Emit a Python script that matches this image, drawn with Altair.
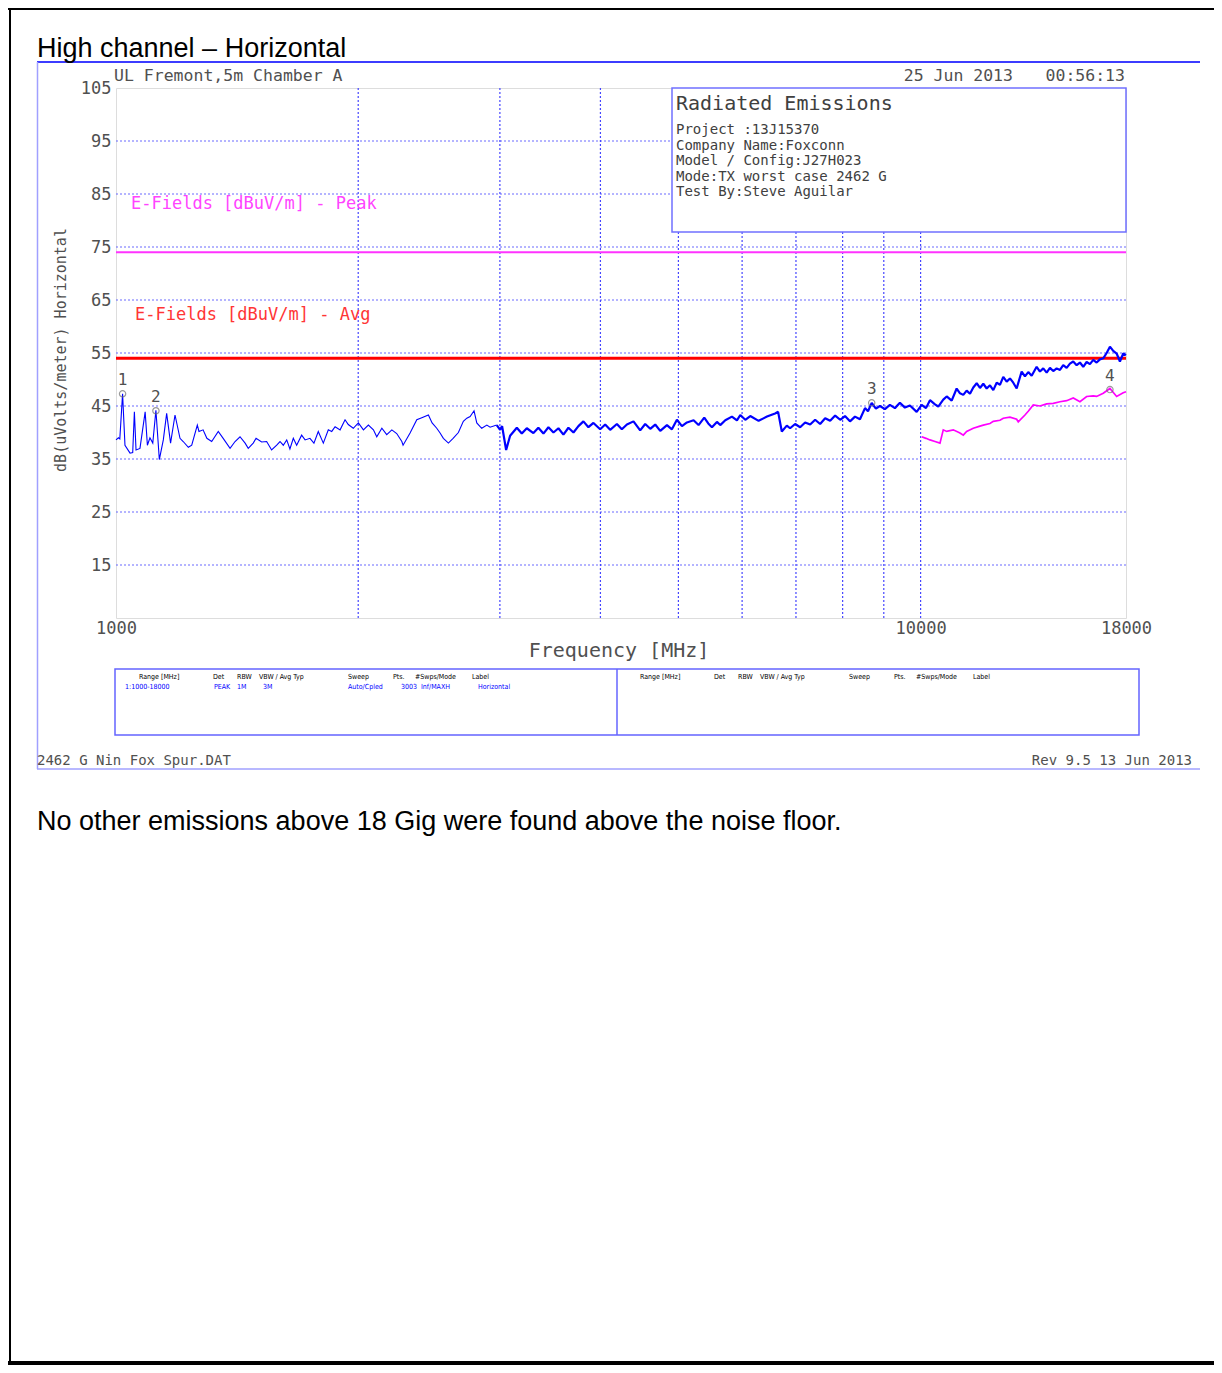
import altair as alt
import pandas as pd

# ---------------- data ----------------
PEAK_LOW_FREQ_MHZ = [1000, 1007, 1011, 1019, 1026, 1041, 1049, 1054, 1059, 1071, 1087, 1094, 1102, 1111, 1121,
                     1132, 1145, 1156, 1169, 1184, 1201, 1212, 1230, 1242, 1262, 1268, 1283, 1297, 1315, 1340,
                     1359, 1386, 1406, 1426, 1447, 1460, 1481, 1493, 1517, 1539, 1561, 1584, 1599, 1614, 1630,
                     1645, 1661, 1677, 1701, 1718, 1742, 1762, 1784, 1810, 1836, 1854, 1872, 1899, 1926, 1944,
                     1972, 2001, 2030, 2059, 2089, 2109, 2140, 2170, 2202, 2233, 2266, 2274, 2320, 2365, 2399,
                     2445, 2471, 2504, 2528, 2552, 2589, 2624, 2664, 2702, 2729, 2755, 2786, 2808, 2835, 2848,
                     2890, 2917, 2973]
PEAK_LOW_LEVEL_DB = [38.6, 39.0, 38.8, 47.3, 37.6, 36.1, 36.2, 43.9, 36.7, 37.0, 43.9, 37.6, 39.0, 38.0, 44.2,
                     34.9, 38.6, 43.6, 38.0, 43.3, 38.9, 38.3, 37.2, 37.6, 41.4, 40.2, 40.5, 38.9, 38.3, 40.2,
                     38.9, 37.0, 38.3, 39.2, 38.0, 37.0, 38.0, 38.9, 38.2, 38.3, 36.7, 37.6, 38.3, 37.6, 38.6,
                     36.9, 38.9, 37.6, 39.5, 38.6, 38.9, 38.0, 40.2, 38.0, 40.5, 40.2, 41.1, 40.5, 42.4, 41.5,
                     40.8, 41.8, 40.5, 41.4, 40.5, 39.2, 40.8, 39.6, 40.5, 39.8, 38.3, 37.6, 39.9, 42.4, 42.8,
                     43.3, 41.8, 40.8, 39.9, 38.9, 38.0, 38.9, 40.0, 42.1, 42.7, 43.0, 44.1, 41.8, 41.1, 40.8,
                     41.4, 41.0, 41.4]

PEAK_HIGH_FREQ_MHZ = [3002, 3019, 3054, 3089, 3149, 3194, 3240, 3302, 3349, 3398, 3447, 3497, 3547, 3598, 3650,
                      3703, 3756, 3810, 3865, 3921, 3997, 4055, 4113, 4193, 4253, 4315, 4397, 4482, 4547, 4613,
                      4679, 4747, 4839, 4908, 4979, 5051, 5124, 5222, 5297, 5384, 5446, 5504, 5583, 5636, 5718,
                      5828, 5912, 5969, 6055, 6142, 6290, 6443, 6594, 6651, 6722, 6819, 6883, 6983, 7084, 7186,
                      7290, 7395, 7501, 7610, 7719, 7831, 7944, 8054, 8170, 8288, 8407, 8529, 8602, 8694, 8799,
                      8901, 9029, 9159, 9291, 9425, 9561, 9699, 9888, 10030, 10155, 10272, 10420, 10519, 10670,
                      10775, 10930, 11087, 11193, 11299, 11409, 11518, 11627, 11741, 11852, 11965, 12082, 12196,
                      12312, 12432, 12550, 12669, 12793, 12914, 13037, 13164, 13353, 13480, 13608, 13741, 13939,
                      14071, 14205, 14344, 14480, 14617, 14760, 14900, 15041, 15188, 15332, 15477, 15629, 15777,
                      15927, 16082, 16235, 16389, 16549, 16706, 16865, 17030, 17191, 17354, 17524, 17690, 17858,
                      18000]
PEAK_HIGH_LEVEL_DB = [40.5, 41.2, 36.7, 39.4, 40.9, 39.8, 40.8, 39.9, 40.9, 39.8, 41.0, 40.0, 40.8, 39.6, 40.9,
                      40.0, 41.2, 42.1, 41.0, 41.8, 40.6, 41.5, 40.5, 41.6, 40.6, 41.5, 42.1, 40.4, 41.6, 40.7,
                      41.5, 40.3, 41.4, 40.6, 42.4, 41.2, 41.9, 42.3, 41.4, 42.8, 41.7, 41.0, 42.0, 41.4, 42.3,
                      43.0, 42.3, 43.3, 42.4, 43.1, 42.2, 43.0, 43.6, 43.9, 40.2, 41.3, 40.8, 41.6, 41.0, 41.9,
                      41.5, 42.4, 41.6, 42.7, 42.2, 43.2, 42.4, 43.1, 42.1, 43.0, 42.5, 44.6, 44.0, 45.6, 44.5,
                      45.0, 44.4, 45.2, 44.6, 45.6, 44.7, 45.1, 43.9, 45.2, 44.6, 46.1, 45.3, 44.9, 46.2,
                      46.8, 46.0, 48.3, 47.4, 47.1, 47.9, 47.3, 48.5, 49.3, 48.4, 49.2, 48.3, 48.9,
                      48.0, 49.4, 49.0, 50.5, 49.6, 50.2, 49.4, 48.3, 51.5, 50.6, 51.4, 50.7, 52.4,
                      51.5, 52.1, 51.3, 52.2, 51.6, 52.1, 51.8, 52.7, 52.2, 53.0, 53.4, 52.7, 53.2,
                      52.4, 53.3, 52.9, 53.7, 53.2, 53.8, 54.0, 55.0, 56.2, 55.4, 54.9, 53.4, 54.9,
                      54.6]

AVG_FREQ_MHZ = [10030, 10155, 10272, 10420, 10570, 10670, 10775, 10980, 11193, 11299, 11409, 11627, 11852,
                11965, 12196, 12312, 12550, 12669, 12914, 13164, 13224, 13480, 13608, 13804, 14071, 14344,
                14617, 14900, 15188, 15477, 15777, 16082, 16389, 16549, 16865, 17191, 17524, 17858, 18000]
AVG_LEVEL_DB = [39.2, 38.9, 38.6, 38.3, 38.0, 40.5, 40.2, 40.5, 39.9, 39.5, 40.2, 40.8, 41.2,
                41.4, 41.7, 42.1, 42.3, 42.7, 42.9, 42.5, 42.0, 43.3, 44.0, 45.2, 45.0, 45.4,
                45.5, 45.8, 46.0, 46.5, 45.8, 46.8, 46.9, 46.8, 47.4, 48.3, 46.8, 47.5, 47.7]

MARKER_IDS = ["1", "2", "3", "4"]
MARKER_FREQ_MHZ = [1019, 1121, 8694, 17191]
MARKER_LEVEL_DB = [47.3, 44.1, 45.6, 48.1]

LIMIT_NAMES = ["E-Fields [dBuV/m] - Peak", "E-Fields [dBuV/m] - Avg"]
LIMIT_LEVEL_DB = [74, 54]

GRID_FREQ_MHZ = [2000, 3000, 4000, 5000, 6000, 7000, 8000, 9000, 10000]
GRID_LEVEL_DB = [15, 25, 35, 45, 55, 65, 75, 85, 95]
X_TICKS = [1000, 10000, 18000]
Y_TICKS = [15, 25, 35, 45, 55, 65, 75, 85, 95, 105]

TITLE = "High channel \u2013 Horizontal"
NOTE = "No other emissions above 18 Gig were found above the noise floor."
SITE = "UL Fremont,5m Chamber A"
DATE = "25 Jun 2013"
TIME = "00:56:13"
BOX_TITLE = "Radiated Emissions"
BOX_LINES = ["Project :13J15370", "Company Name:Foxconn", "Model / Config:J27H023",
             "Mode:TX worst case 2462 G", "Test By:Steve Aguilar"]
X_TITLE = "Frequency [MHz]"
Y_TITLE = "dB(uVolts/meter) Horizontal"
FILE_NAME = "2462 G Nin Fox Spur.DAT"
REVISION = "Rev 9.5 13 Jun 2013"
FOOT_HEADERS = ["Range [MHz]", "Det", "RBW", "VBW / Avg Typ", "Sweep", "Pts.", "#Swps/Mode", "Label"]
FOOT_VALUES = ["1:1000-18000", "PEAK", "1M", "3M", "Auto/Cpled", "3003", "Inf/MAXH", "Horizontal"]

# ---------------- styling ----------------
MONO = "DejaVu Sans Mono"
SANS = "Liberation Sans, Arial, sans-serif"
NARROW = "Liberation Sans Narrow, DejaVu Sans Condensed, sans-serif"
GREY = "#505050"
BLUE = "#0000ff"
MAGENTA = "#ff33ff"
RED = "#ff0000"

ONE = alt.Data(values=[{"k": 0}])


def text_layer(content, x, y, size, color=GREY, font=MONO, align="left", baseline="middle",
               angle=None, line_height=None):
    kw = dict(text=content, align=align, baseline=baseline, font=font, fontSize=size, color=color)
    if angle is not None:
        kw["angle"] = angle
    if line_height is not None:
        kw["lineHeight"] = line_height
    return alt.Chart(ONE).mark_text(**kw).encode(x=alt.value(x), y=alt.value(y))


def hline(x1, x2, y, color, width):
    return alt.Chart(ONE).mark_rule(color=color, strokeWidth=width).encode(
        x=alt.value(x1), x2=alt.value(x2), y=alt.value(y))


def vline(x, y1, y2, color, width):
    return alt.Chart(ONE).mark_rule(color=color, strokeWidth=width).encode(
        x=alt.value(x), y=alt.value(y1), y2=alt.value(y2))


def rect(x1, x2, y1, y2, stroke, width, fill="white", fill_opacity=1.0):
    return alt.Chart(ONE).mark_rect(stroke=stroke, strokeWidth=width, fill=fill,
                                    fillOpacity=fill_opacity).encode(
        x=alt.value(x1), x2=alt.value(x2), y=alt.value(y1), y2=alt.value(y2))


XS = alt.Scale(type="log", domain=[1000, 18000], nice=False)
YS = alt.Scale(domain=[5, 105], nice=False, zero=False)
XA = alt.Axis(values=X_TICKS, format="d", title=None, grid=False, ticks=False, tickSize=0, domain=False,
              labelFont=MONO, labelFontSize=17, labelColor=GREY, labelPadding=2, labelFlush=False,
              labelOverlap=False, labelBaseline="top")
YA = alt.Axis(values=Y_TICKS, title=None, grid=False, ticks=False, tickSize=0, domain=False,
              labelFont=MONO, labelFontSize=17, labelColor=GREY, labelPadding=5, labelFlush=False,
              labelOverlap=False)
X = alt.X("freq:Q", scale=XS, axis=XA)
Y = alt.Y("level:Q", scale=YS, axis=YA)

peak_low_df = pd.DataFrame({"freq": PEAK_LOW_FREQ_MHZ, "level": PEAK_LOW_LEVEL_DB})
peak_high_df = pd.DataFrame({"freq": PEAK_LOW_FREQ_MHZ[-1:] + PEAK_HIGH_FREQ_MHZ,
                             "level": PEAK_LOW_LEVEL_DB[-1:] + PEAK_HIGH_LEVEL_DB})
avg_df = pd.DataFrame({"freq": AVG_FREQ_MHZ, "level": AVG_LEVEL_DB})
marker_df = pd.DataFrame({"id": MARKER_IDS, "freq": MARKER_FREQ_MHZ, "level": MARKER_LEVEL_DB})
limit_df = pd.DataFrame({"name": LIMIT_NAMES, "level": LIMIT_LEVEL_DB})
vgrid_df = pd.DataFrame({"freq": GRID_FREQ_MHZ})
hgrid_df = pd.DataFrame({"level": GRID_LEVEL_DB})

layers = []

# page frame (black)
layers.append(hline(-108, 1098, -79, "black", 2))
layers.append(vline(-106, -80, 1277, "black", 2))
layers.append(hline(-108, 1098, 1275, "black", 4))

# chart frame (blue)
layers.append(hline(-79, 1084, -26, "#3c3cff", 2))
layers.append(vline(-78.5, -26, 681, "#a0a0ff", 1.5))
layers.append(hline(-79, 1084, 681, "#a0a0ff", 1.5))

# grid
layers.append(alt.Chart(hgrid_df).mark_rule(color="#6a6aff", strokeWidth=1.2, strokeDash=[2, 2]).encode(y=Y))
layers.append(alt.Chart(vgrid_df).mark_rule(color="#4646ff", strokeWidth=1.2, strokeDash=[2, 2]).encode(x=X))

# info box covering grid
layers.append(rect(556, 1010, 0, 144, "#7070ff", 1.5))
layers.append(text_layer(BOX_TITLE, 560, 16, 20, color="#404040"))
layers.append(text_layer(BOX_LINES, 560, 35, 14, color="#404040", baseline="top", line_height=15.5))

# limits
layers.append(alt.Chart(limit_df).transform_filter(alt.datum.name == LIMIT_NAMES[0])
              .mark_rule(color=MAGENTA, strokeWidth=2).encode(y=Y))
layers.append(alt.Chart(limit_df).transform_filter(alt.datum.name == LIMIT_NAMES[1])
              .mark_rule(color=RED, strokeWidth=3).encode(y=Y))
layers.append(text_layer(LIMIT_NAMES[0], 15, 116, 17, color="#ff44ff"))
layers.append(text_layer(LIMIT_NAMES[1], 19, 227, 17, color="#ff3535"))

# traces
layers.append(alt.Chart(peak_low_df).mark_line(color=BLUE, strokeWidth=1.1).encode(x=X, y=Y, order="freq:Q"))
layers.append(alt.Chart(peak_high_df).mark_line(color=BLUE, strokeWidth=2.2, strokeJoin="bevel")
              .encode(x=X, y=Y, order="freq:Q"))
layers.append(alt.Chart(avg_df).mark_line(color="#ff00ff", strokeWidth=1.7).encode(x=X, y=Y, order="freq:Q"))

# markers
layers.append(alt.Chart(marker_df).mark_point(shape="circle", filled=False, size=40, color="#707070",
                                              strokeWidth=1.2).encode(x=X, y=Y))
layers.append(alt.Chart(marker_df).mark_text(dy=-14, font=MONO, fontSize=16, color=GREY)
              .encode(x=X, y=Y, text="id:N"))

# header texts
layers.append(text_layer(TITLE, -79, -31, 27, color="black", font=SANS, baseline="alphabetic"))
layers.append(text_layer(SITE, -2, -12, 16.5))
layers.append(text_layer(DATE, 897, -12, 16.5, align="right"))
layers.append(text_layer(TIME, 1009, -12, 16.5, align="right"))

# axis titles
layers.append(text_layer(X_TITLE, 503, 563, 20, align="center"))
layers.append(text_layer(Y_TITLE, -55, 262, 15, align="center", angle=270))

# footer table
layers.append(rect(-1, 1023, 581, 647, "#6464ff", 1.5, fill_opacity=0))
layers.append(vline(501, 581, 647, "#6464ff", 1.5))
HEAD_X = [23, 97, 121, 143, 232, 277, 299, 356]
VAL_X = [9, 98, 121, 147, 232, 285, 305, 362]
for label, hx in zip(FOOT_HEADERS, HEAD_X):
    layers.append(text_layer(label, hx, 589, 7, color="black", font=NARROW))
    layers.append(text_layer(label, hx + 501, 589, 7, color="black", font=NARROW))
for label, vx in zip(FOOT_VALUES, VAL_X):
    layers.append(text_layer(label, vx, 599, 7, color=BLUE, font=NARROW))

layers.append(text_layer(FILE_NAME, -79, 673, 14))
layers.append(text_layer(REVISION, 1076, 673, 14, align="right"))

# note below chart
layers.append(text_layer(NOTE, -79, 742, 27, color="black", font=SANS, baseline="alphabetic"))

chart = alt.layer(*layers).properties(
    width=1010,
    height=530,
    padding={"left": 108, "top": 80, "right": 88, "bottom": 747},
    autosize=alt.AutoSizeParams(type="none"),
).configure_view(stroke="#5c5cff", strokeWidth=1.8, fill="white").configure(background="white")

chart.save("out.html", embed_options={"renderer": "svg", "actions": False})
